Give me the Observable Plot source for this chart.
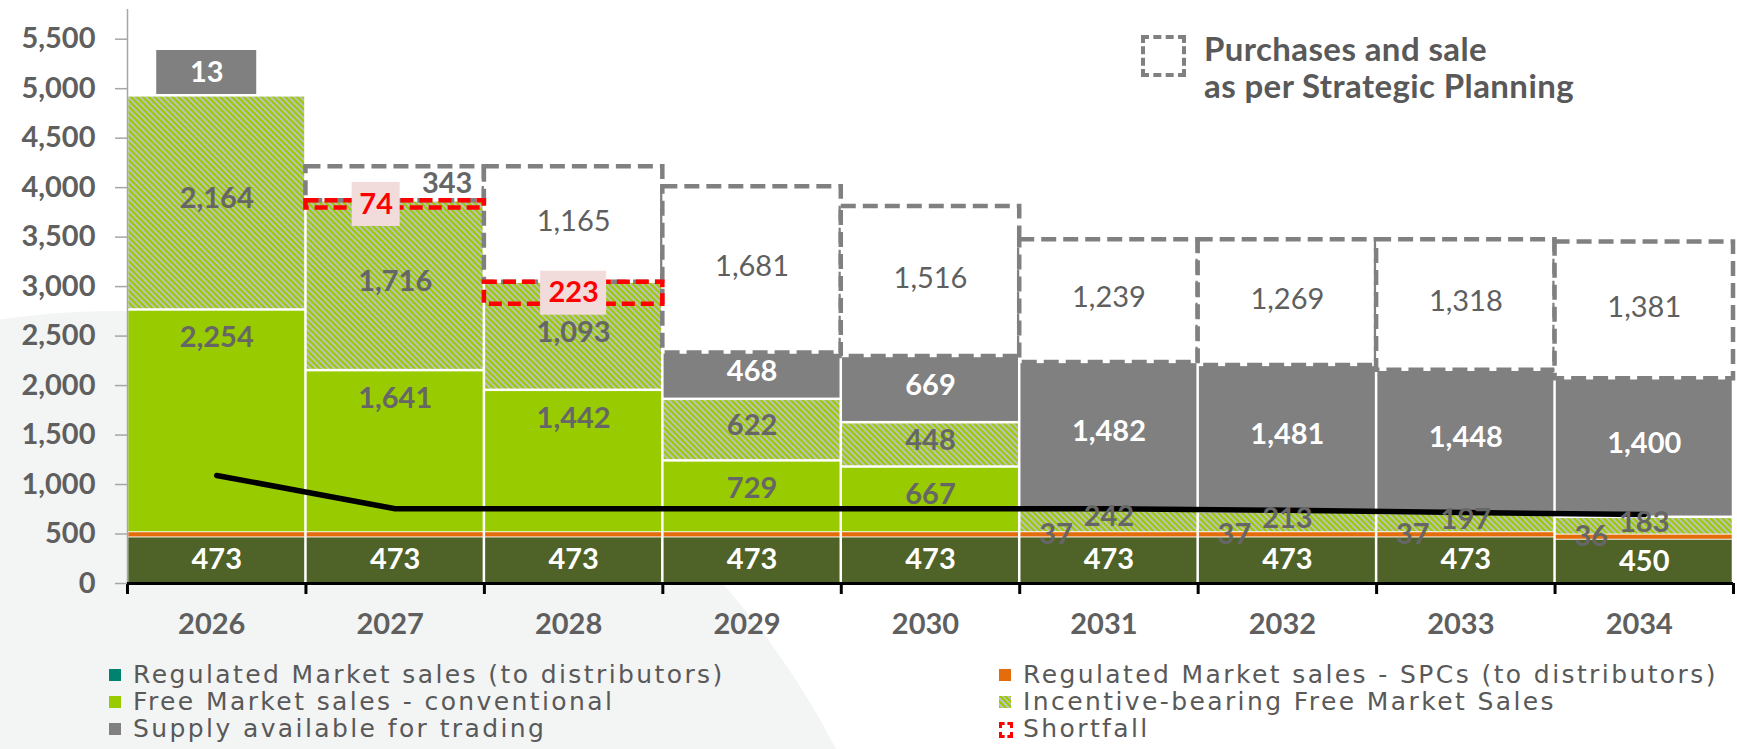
<!DOCTYPE html>
<html><head><meta charset="utf-8">
<script src="https://cdn.jsdelivr.net/npm/d3@7"></script>
<script src="https://cdn.jsdelivr.net/npm/@observablehq/plot@0.6"></script>
<style>
html,body{margin:0;padding:0;background:#fff;}
body{width:1737px;height:749px;position:relative;overflow:hidden;font-family:Lato,sans-serif;}
#bg{position:absolute;left:-692px;top:311px;width:1618px;height:1618px;border-radius:50%;background:#f3f4f4;z-index:0;}
#chart{position:absolute;left:0;top:0;z-index:1;}
g[aria-label="y-axis tick"]{stroke:#a6a6a6;stroke-width:1.5px;}
g[aria-label="y-axis tick label"] text,g[aria-label="x-axis tick label"] text{fill:#5f5f5f;font-family:Lato,sans-serif;font-weight:bold;font-size:29px;}
#note{position:absolute;left:1141px;top:30px;z-index:2;}
#note .box{position:absolute;left:0;top:5px;width:45px;height:42px;box-sizing:border-box;border:4px dashed #808080;}
#note .txt{position:absolute;left:63px;top:0;white-space:nowrap;font:bold 33px/37px Lato,sans-serif;letter-spacing:0.4px;color:#595959;}
#legend{position:absolute;left:0;top:0;width:1737px;height:749px;z-index:2;pointer-events:none;}
.lg{position:absolute;white-space:nowrap;font:25px/28px "DejaVu Sans",sans-serif;letter-spacing:2.4px;color:#595959;}
.lg .sw{position:absolute;left:-24px;top:8px;width:12px;height:12px;}
</style></head><body>
<div id="bg"></div>
<div id="chart"></div>
<div id="note"><div class="box"></div><div class="txt">Purchases and sale<br>as per Strategic Planning</div></div>
<div id="legend"></div>
<script>
// ---- data ----
const years = ["2026","2027","2028","2029","2030","2031","2032","2033","2034"];
const regulated  = [473, 473, 473, 473, 473, 473, 473, 473, 450];
const spc        = [37, 37, 37, 37, 37, 37, 37, 37, 36];
const freeMarket = [2254, 1641, 1442, 729, 667, 0, 0, 0, 0];
const incentive  = [2164, 1716, 1093, 622, 448, 242, 213, 197, 183];
const supply     = [13, 0, 0, 468, 669, 1482, 1481, 1448, 1400];
const shortfall  = [0, 74, 223, 0, 0, 0, 0, 0, 0];
const strategic  = [0, 343, 1165, 1681, 1516, 1239, 1269, 1318, 1381];
const blackLine  = [1092, 755, 755, 755, 755, 755, 740, 718, 696];
const yTicks = [0, 500, 1000, 1500, 2000, 2500, 3000, 3500, 4000, 4500, 5000, 5500];
const legendItems = [
  {label: "Regulated Market sales (to distributors)", kind: "teal"},
  {label: "Regulated Market sales - SPCs (to distributors)", kind: "orange"},
  {label: "Free Market sales - conventional", kind: "green"},
  {label: "Incentive-bearing Free Market Sales", kind: "hatch"},
  {label: "Supply available for trading", kind: "gray"},
  {label: "Shortfall", kind: "shortfall"}
];

// ---- styles / layout ----
const C = {olive: "#4F6228", orange: "#E46C0A", green: "#99CC00", gray: "#808080", teal: "#00826E",
  text: "#666666", strat: "#5f5f5f", red: "#FF0000", pink: "#F2DCDB", dash: "#808080", hatchGray: "#BFBFBF"};
const W = 1737, H = 650, mL = 127, mR = 4, mT = 9, mB = 67;
const bw = (W - mL - mR) / years.length;
const plotH = H - mT - mB;
const fmt = d3.format(",");
const lab = {fontFamily: "Lato", fontSize: 29, fontWeight: "bold"};
const gap = 1.25;

const rows = years.map((year, i) => {
  const r1 = regulated[i], s1 = r1 + spc[i], f1 = s1 + freeMarket[i],
        n1 = f1 + incentive[i], t = n1 + supply[i];
  return {year, i, r1, s1, f1, n1, t};
});

const ins = {insetLeft: gap, insetRight: gap, insetTop: gap, insetBottom: gap};
const marks = [
  Plot.frame({fill: "white", stroke: "none"}),
  Plot.barY(rows, {x: "year", y1: 0, y2: "r1", fill: C.olive, ...ins, insetBottom: 0}),
  Plot.barY(rows.filter(d => freeMarket[d.i] > 0), {x: "year", y1: "s1", y2: "f1", fill: C.green, ...ins}),
  Plot.barY(rows, {x: "year", y1: "f1", y2: "n1", fill: "url(#hatch)", ...ins}),
  Plot.barY(rows.filter(d => supply[d.i] > 0), {x: "year", y1: "n1", y2: "t", fill: C.gray, ...ins}),
  Plot.barY(rows, {x: "year", y1: "r1", y2: "s1", fill: C.orange, insetLeft: gap, insetRight: gap, insetTop: -0.3, insetBottom: -0.3}),
  // strategic planning boxes
  Plot.barY(rows.filter(d => strategic[d.i] > 0), {x: "year", y1: "t", y2: d => d.t + strategic[d.i],
    fill: "white", stroke: C.dash, strokeWidth: 4.5, strokeDasharray: "15,7"}),
  // shortfall boxes
  Plot.barY(rows.filter(d => shortfall[d.i] > 0), {x: "year", y1: d => d.t - shortfall[d.i], y2: "t",
    fill: "none", stroke: C.red, strokeWidth: 4.5, strokeDasharray: "13,6"}),
  // axes
  Plot.ruleX([years[0]], {dx: -bw / 2, stroke: "#a6a6a6", strokeWidth: 1.5}),
  Plot.ruleY([0], {stroke: "black", strokeWidth: 3}),
  Plot.ruleX(years, {dx: -bw / 2, stroke: "black", strokeWidth: 3, insetTop: plotH, insetBottom: -11}),
  Plot.ruleX([years[years.length - 1]], {dx: bw / 2, stroke: "black", strokeWidth: 3, insetTop: plotH, insetBottom: -11}),
  Plot.axisY({ticks: yTicks, tickFormat: fmt, tickSize: 12, tickPadding: 20, label: null}),
  Plot.axisX({tickSize: 0, tickPadding: 30, label: null, dx: -5}),
  // black line
  Plot.lineY(rows, {x: "year", y: d => blackLine[d.i], stroke: "black", strokeWidth: 5.5}),
  // labels
  Plot.text(rows, {x: "year", y: d => d.r1 / 2, text: d => fmt(regulated[d.i]), fill: "white", ...lab}),
  Plot.text(rows.filter(d => freeMarket[d.i] === 0), {x: "year", y: d => (d.r1 + d.s1) / 2, text: d => fmt(spc[d.i]), fill: C.text, dx: -53, ...lab}),
  Plot.text(rows.filter(d => freeMarket[d.i] > 0), {x: "year", y: "f1", dy: 28, text: d => fmt(freeMarket[d.i]), fill: C.text, ...lab}),
  Plot.text(rows, {x: "year", y: d => (d.f1 + d.n1) / 2, dy: -4, text: d => fmt(incentive[d.i]), fill: C.text, ...lab}),
  Plot.text(rows.filter(d => supply[d.i] >= 100), {x: "year", y: d => (d.n1 + d.t) / 2, dy: -4, text: d => fmt(supply[d.i]), fill: "white", ...lab}),
  Plot.text(rows.filter(d => strategic[d.i] >= 500), {x: "year", y: d => d.t + strategic[d.i] / 2, dy: -3, text: d => fmt(strategic[d.i]), fill: C.strat, ...lab, fontWeight: "normal"}),
  Plot.text(rows.filter(d => strategic[d.i] > 0 && strategic[d.i] < 500), {x: "year", y: d => d.t + strategic[d.i] / 2, dx: 52, text: d => fmt(strategic[d.i]), fill: C.text, ...lab})
];

// small supply label box (on top of the stack)
rows.filter(d => supply[d.i] > 0 && supply[d.i] < 100).forEach(d => {
  const w = 100, dx = -10;
  marks.push(Plot.barY([d], {x: "year", y1: "t", y2: "t", insetTop: -44, insetBottom: 0,
    insetLeft: (bw - w) / 2 + dx, insetRight: (bw - w) / 2 - dx, fill: C.gray}));
  marks.push(Plot.text([d], {x: "year", y: "t", dy: -22, dx, text: r => fmt(supply[r.i]), fill: "white", ...lab}));
});
// shortfall label boxes
const shortfallDx = {"2027": -19};
rows.filter(d => shortfall[d.i] > 0).forEach(d => {
  const txt = fmt(shortfall[d.i]);
  const w = 18 * txt.length + 12, dx = shortfallDx[d.year] || 0;
  const mid = r => r.t - shortfall[r.i] / 2;
  marks.push(Plot.barY([d], {x: "year", y1: mid, y2: mid, insetTop: -22, insetBottom: -22,
    insetLeft: (bw - w) / 2 + dx, insetRight: (bw - w) / 2 - dx, fill: C.pink}));
  marks.push(Plot.text([d], {x: "year", y: mid, dx, text: () => txt, fill: C.red, ...lab}));
});

const chart = Plot.plot({
  width: W, height: H, marginLeft: mL, marginRight: mR, marginTop: mT, marginBottom: mB,
  style: {background: "transparent", fontFamily: "Lato", overflow: "visible"},
  x: {type: "band", domain: years, padding: 0, round: false},
  y: {domain: [0, 5800]},
  marks
});
d3.select(chart).insert("defs", ":first-child").html(
  '<pattern id="hatch" patternUnits="userSpaceOnUse" width="4.2" height="4.2" patternTransform="rotate(-45)">' +
  '<rect width="4.2" height="4.2" fill="' + C.green + '"/><rect width="2" height="4.2" fill="' + C.hatchGray + '"/></pattern>');
document.getElementById("chart").appendChild(chart);

// legend (HTML, below the chart)
const legendPos = [[133, 661], [1023, 661], [133, 688], [1023, 688], [133, 715], [1023, 715]];
const lg = document.getElementById("legend");
legendItems.forEach((it, k) => {
  const div = document.createElement("div");
  div.className = "lg";
  div.style.left = legendPos[k][0] + "px";
  div.style.top = legendPos[k][1] + "px";
  const sw = document.createElement("span");
  sw.className = "sw";
  if (it.kind === "hatch") sw.style.background = "repeating-linear-gradient(45deg," + C.green + " 0 2px," + C.hatchGray + " 2px 4px)";
  else if (it.kind === "shortfall") { sw.style.border = "3px dashed " + C.red; sw.style.width = "8px"; sw.style.height = "10px"; sw.style.top = "7px"; }
  else sw.style.background = {teal: C.teal, orange: C.orange, green: C.green, gray: C.gray}[it.kind];
  div.appendChild(sw);
  div.appendChild(document.createTextNode(it.label));
  lg.appendChild(div);
});
</script>
</body></html>
